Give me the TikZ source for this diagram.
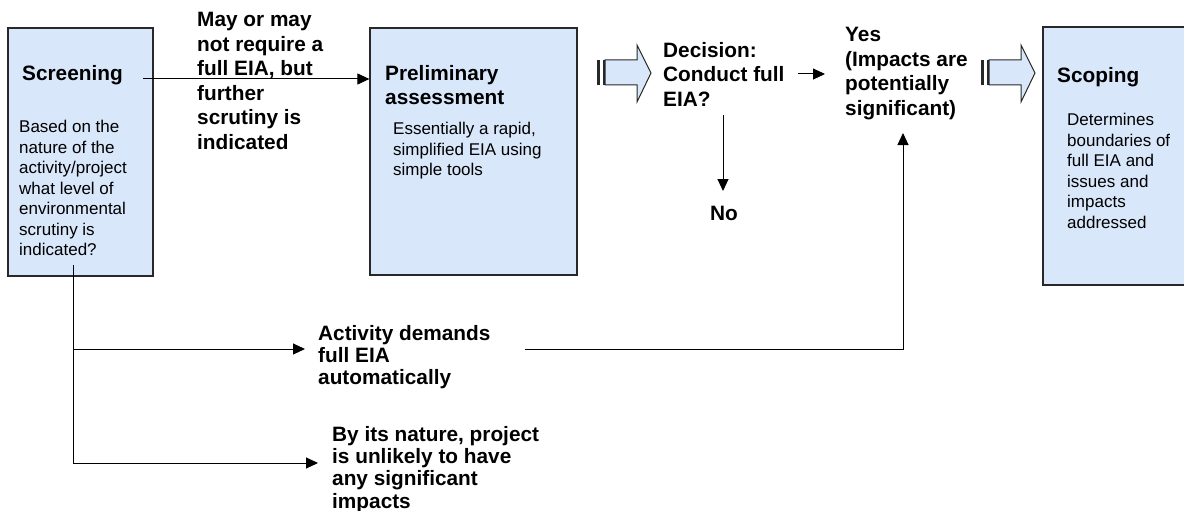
\documentclass[tikz,border=0pt]{standalone}
\usepackage{fontspec}
\setmainfont{Liberation Sans}
\usetikzlibrary{arrows.meta}
\definecolor{boxfill}{RGB}{217,231,250}
\definecolor{boxline}{RGB}{40,40,40}
\tikzset{
  stagebox/.style={draw=boxline, line width=1.2pt, fill=boxfill, inner sep=0pt},
  boldtxt/.style={anchor=north west, inner sep=0pt, align=left, font=\fontsize{20.8}{24.5}\selectfont\bfseries},
  boldtight/.style={anchor=north west, inner sep=0pt, align=left, font=\fontsize{20.8}{22.3}\selectfont\bfseries},
  bodytxt/.style={anchor=north west, inner sep=0pt, align=left, font=\fontsize{17}{20.5}\selectfont},
  arr/.style={line width=1pt, -{Triangle[length=12pt,width=11pt]}},
  ln/.style={line width=1pt},
  blockarr/.pic={
    \fill[boxline] (0,-13) rectangle (2.5,12);
    \fill[boxline] (5.5,-13) rectangle (8,12);
    \filldraw[draw=boxline, line width=1pt, fill=boxfill]
      (8,-13) -- (40,-13) -- (40,-28) -- (54,0) -- (40,29) -- (40,12) -- (8,12) -- cycle;
  }
}
\begin{document}
\begin{tikzpicture}[x=1pt,y=-1pt]
\useasboundingbox (0,0) rectangle (1184,511);
% boxes
\node[stagebox, minimum width=145pt, minimum height=248pt] (screen) at (80.5,152) {};
\node[stagebox, minimum width=207pt, minimum height=247pt] (prelim) at (473.5,151.5) {};
\node[stagebox, minimum width=160pt, minimum height=258pt] (scope) at (1123,156) {};
% block arrows
\pic at (597,73) {blockarr};
\pic at (981,73) {blockarr};
% texts
\node[boldtxt] (screent) at (22,65) {Screening};
\node[bodytxt] (screenb) at (19,120) {Based on the\\nature of the\\activity/project\\what level of\\environmental\\scrutiny is\\indicated?};
\node[boldtxt] (prelimt) at (385,65) {Preliminary\\assessment};
\node[bodytxt] (prelimb) at (393,122) {Essentially a rapid,\\simplified EIA using\\simple tools};
\node[boldtxt] (scopet) at (1057,67) {Scoping};
\node[bodytxt] (scopeb) at (1067,113) {Determines\\boundaries of\\full EIA and\\issues and\\impacts\\addressed};
\node[boldtxt] (maytxt) at (197,12) {May or may\\not require a\\full EIA, but\\further\\scrutiny is\\indicated};
\node[boldtxt] (decision) at (663,42) {Decision:\\Conduct full\\EIA?};
\node[boldtxt] (yes) at (845,27) {Yes\\(Impacts are\\potentially\\significant)};
\node[boldtxt] (no) at (710,206) {No};
\node[boldtight] (activity) at (318,325) {Activity demands\\full EIA\\automatically};
\node[boldtight] (nature) at (332,426) {By its nature, project\\is unlikely to have\\any significant\\impacts};
% connector coordinates
\coordinate (s1) at (143,79);
\coordinate (d1) at (798,74);
\coordinate (d2) at (825,74);
\coordinate (n1) at (723,115);
\coordinate (n2) at (723,191);
\coordinate (v1) at (73,265);
\coordinate (v2) at (73,463);
\coordinate (b1) at (73,349);
\coordinate (b1e) at (305,349);
\coordinate (b2e) at (318,463);
\coordinate (a1) at (525,349);
\coordinate (a2) at (903,349);
\coordinate (a3) at (903,133);
% connectors
\draw[arr] (s1) -- (s1 -| prelim.west);
\draw[arr] (d1) -- (d2);
\draw[arr] (n1) -- (n2);
\draw[ln] (v1) -- (v2);
\draw[arr] (b1) -- (b1e);
\draw[arr] (v2) -- (b2e);
\draw[arr] (a1) -- (a2) -- (a3);
\end{tikzpicture}
\end{document}
